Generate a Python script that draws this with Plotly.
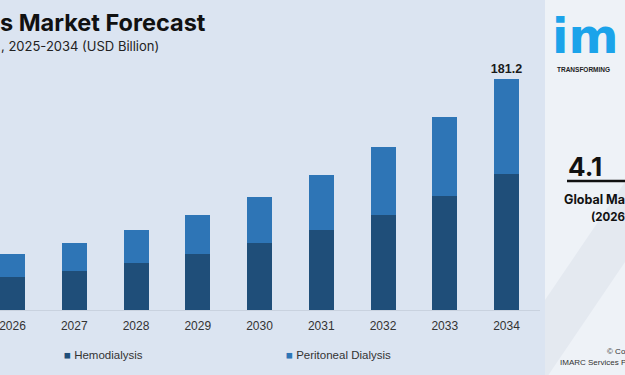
import plotly.graph_objects as go

years = ["2026", "2027", "2028", "2029", "2030", "2031", "2032", "2033", "2034"]
hemodialysis = [25.7, 30.4, 36.9, 44.2, 52.6, 62.8, 74.8, 89.7, 106.9]
peritoneal = [18.2, 21.9, 25.6, 30.6, 36.3, 43.3, 52.8, 61.9, 74.3]
series_names = ["Hemodialysis", "Peritoneal Dialysis"]
top_labels = ["", "", "", "", "", "", "", "", "181.2"]

BG = "#dbe4f1"
C_HEMO = "#1f4e79"
C_PERI = "#2e75b6"

W, H = 625, 375
ml, mr, mt, mb = 0, 85, 40, 65
plot_w = W - ml - mr
plot_h = H - mt - mb
px_per_unit = 1.2748
ymax = plot_h / px_per_unit

spacing = 61.75
x0 = -12.5 / spacing
x1 = x0 + plot_w / spacing

fig = go.Figure()
fig.add_trace(go.Bar(x=years, y=hemodialysis, name=series_names[0],
                     marker=dict(color=C_HEMO, line=dict(width=0))))
fig.add_trace(go.Bar(x=years, y=peritoneal, name=series_names[1],
                     marker=dict(color=C_PERI, line=dict(width=0)),
                     text=["<b>%s</b>" % t if t else "" for t in top_labels],
                     textposition="outside", cliponaxis=False, constraintext="none",
                     textfont=dict(family="Liberation Sans, Arial", size=12.5, color="#1a1a1a")))


def px2paper_x(px):
    return (px - ml) / plot_w


def px2paper_y(py):
    return (H - mb - py) / plot_h


annotations = [
    dict(x=px2paper_x(-2), y=px2paper_y(22), xref="paper", yref="paper",
         text="<b>s Market Forecast</b>", showarrow=False, xanchor="left", yanchor="middle",
         font=dict(family="Inter, Lato", size=23.5, color="#111111")),
    dict(x=px2paper_x(-1), y=px2paper_y(46), xref="paper", yref="paper",
         text=", 2025-2034 (USD Billion)", showarrow=False, xanchor="left", yanchor="middle",
         font=dict(family="Inter, Lato", size=13, color="#222222")),
    # legend (manual, square marker right before text)
    dict(x=px2paper_x(62), y=px2paper_y(355), xref="paper", yref="paper",
         text="<span style='color:%s'>■</span> %s" % (C_HEMO, series_names[0]),
         showarrow=False, xanchor="left", yanchor="middle",
         font=dict(family="Liberation Sans, Arial", size=11.5, color="#333333")),
    dict(x=px2paper_x(284), y=px2paper_y(355), xref="paper", yref="paper",
         text="<span style='color:%s'>■</span> %s" % (C_PERI, series_names[1]),
         showarrow=False, xanchor="left", yanchor="middle",
         font=dict(family="Liberation Sans, Arial", size=11.5, color="#333333")),
    # right panel texts
    dict(x=px2paper_x(550), y=px2paper_y(36), xref="paper", yref="paper",
         text="<b>im</b>", showarrow=False, xanchor="left", yanchor="middle",
         font=dict(family="DejaVu Sans", size=48, color="#1ba3ea")),
    dict(x=px2paper_x(555), y=px2paper_y(69), xref="paper", yref="paper",
         text="<b>TRANSFORMING</b>", showarrow=False, xanchor="left", yanchor="middle",
         font=dict(family="Liberation Sans, Arial", size=6.5, color="#222222")),
    dict(x=px2paper_x(566), y=px2paper_y(166), xref="paper", yref="paper",
         text="<b>4.1</b>", showarrow=False, xanchor="left", yanchor="middle",
         font=dict(family="Inter, Lato", size=26, color="#111111")),
    dict(x=px2paper_x(562), y=px2paper_y(199), xref="paper", yref="paper",
         text="<b>Global Ma</b>", showarrow=False, xanchor="left", yanchor="middle",
         font=dict(family="Inter, Lato", size=12.5, color="#111111")),
    dict(x=px2paper_x(589), y=px2paper_y(217), xref="paper", yref="paper",
         text="<b>(2026</b>", showarrow=False, xanchor="left", yanchor="middle",
         font=dict(family="Inter, Lato", size=11.5, color="#111111")),
    dict(x=px2paper_x(605), y=px2paper_y(351), xref="paper", yref="paper",
         text="© Co", showarrow=False, xanchor="left", yanchor="middle",
         font=dict(family="Liberation Sans, Arial", size=8, color="#333333")),
    dict(x=px2paper_x(558), y=px2paper_y(362), xref="paper", yref="paper",
         text="IMARC Services P", showarrow=False, xanchor="left", yanchor="middle",
         font=dict(family="Liberation Sans, Arial", size=8, color="#333333")),
]

shapes = [
    dict(type="rect", xref="paper", yref="paper", layer="below",
         x0=px2paper_x(545), x1=px2paper_x(640), y0=px2paper_y(380), y1=px2paper_y(-5),
         fillcolor="#eef2f7", line=dict(width=0)),
    dict(type="path", xref="paper", yref="paper", layer="below",
         path="M %f %f L %f %f L %f %f L %f %f Z" % (
             px2paper_x(545), px2paper_y(300), px2paper_x(640), px2paper_y(160),
             px2paper_x(640), px2paper_y(240), px2paper_x(545), px2paper_y(380)),
         fillcolor="#e4e9f0", line=dict(width=0)),
    dict(type="rect", xref="paper", yref="paper", layer="below",
         x0=px2paper_x(567), x1=px2paper_x(630), y0=px2paper_y(182.3), y1=px2paper_y(179.7),
         fillcolor="#111111", line=dict(width=0)),
]

fig.update_layout(
    width=W, height=H,
    margin=dict(l=ml, r=mr, t=mt, b=mb),
    paper_bgcolor=BG, plot_bgcolor=BG,
    barmode="stack", bargap=0.595,
    showlegend=False,
    xaxis=dict(type="category", range=[x0, x1], showgrid=False, zeroline=False,
               showline=True, linecolor="#c9d2df", linewidth=1, ticks="",
               ticklabelstandoff=5,
               tickfont=dict(family="Liberation Sans, Arial", size=12, color="#333333")),
    yaxis=dict(range=[0, ymax], visible=False, showgrid=False, zeroline=False),
    annotations=annotations,
    shapes=shapes,
    font=dict(family="Liberation Sans, Arial"),
)

fig.write_html("out.html", config={"displayModeBar": False},
               post_script="document.body.style.margin='0';document.body.style.overflow='hidden';")
